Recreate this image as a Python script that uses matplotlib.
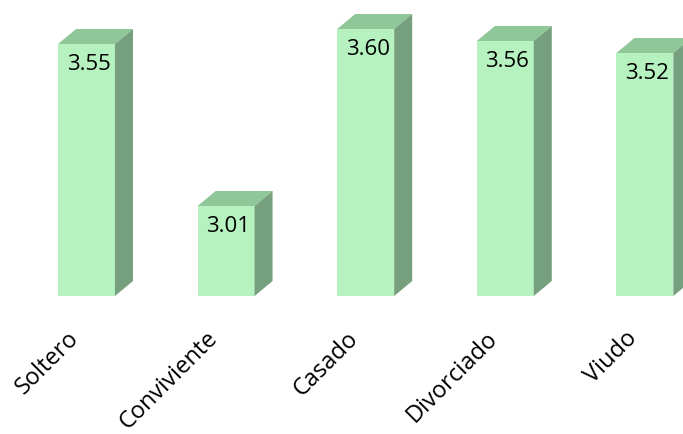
import matplotlib
matplotlib.use("Agg")
import matplotlib.pyplot as plt
from matplotlib.patches import Polygon
from matplotlib.transforms import ScaledTranslation

# data
categories = ["Soltero", "Conviviente", "Casado", "Divorciado", "Viudo"]
values = [3.55, 3.01, 3.60, 3.56, 3.52]

FRONT = "#b6f2c0"
TOP = "#8fc798"
SIDE = "#76a07d"

base = 2.71
bar_w = 0.408
dx = 0.129   # depth to the right
dy = 0.05    # depth upwards

plt.rcParams['font.family'] = ['Open Sans', 'DejaVu Sans']

fig = plt.figure(figsize=(6.83, 4.34), dpi=100)
ax = fig.add_axes([10 / 683, 138 / 434, 673 / 683, 296 / 434])
ax.set_xlim(-0.548, 4.273)
ax.set_ylim(base, base + 296 / 300)

xs = list(range(len(categories)))
ax.bar(xs, [v - base for v in values], bottom=base, width=bar_w, color=FRONT, zorder=2)

# top and side faces of each bar
for x, v in zip(xs, values):
    l, r = x - bar_w / 2, x + bar_w / 2
    ax.add_patch(Polygon([(l, v), (r, v), (r + dx, v + dy), (l + dx, v + dy)],
                         closed=True, facecolor=TOP, edgecolor="none", zorder=2))
    ax.add_patch(Polygon([(r, base), (r + dx, base + dy), (r + dx, v + dy), (r, v)],
                         closed=True, facecolor=SIDE, edgecolor="none", zorder=2))
    ax.text(x + 0.015, v - 0.068, f"{v:.2f}", ha="center", va="center", fontsize=16, zorder=3)

ax.set_xticks(xs)
ax.set_xticklabels(categories, rotation=45, ha="right", rotation_mode="anchor", fontsize=17)
ax.tick_params(axis="x", length=0, pad=22)
shift = ScaledTranslation(-20 / 100, 0, fig.dpi_scale_trans)
for lab in ax.get_xticklabels():
    lab.set_transform(lab.get_transform() + shift)
ax.set_yticks([])
for s in ax.spines.values():
    s.set_visible(False)

fig.savefig("out.png", dpi=100)
